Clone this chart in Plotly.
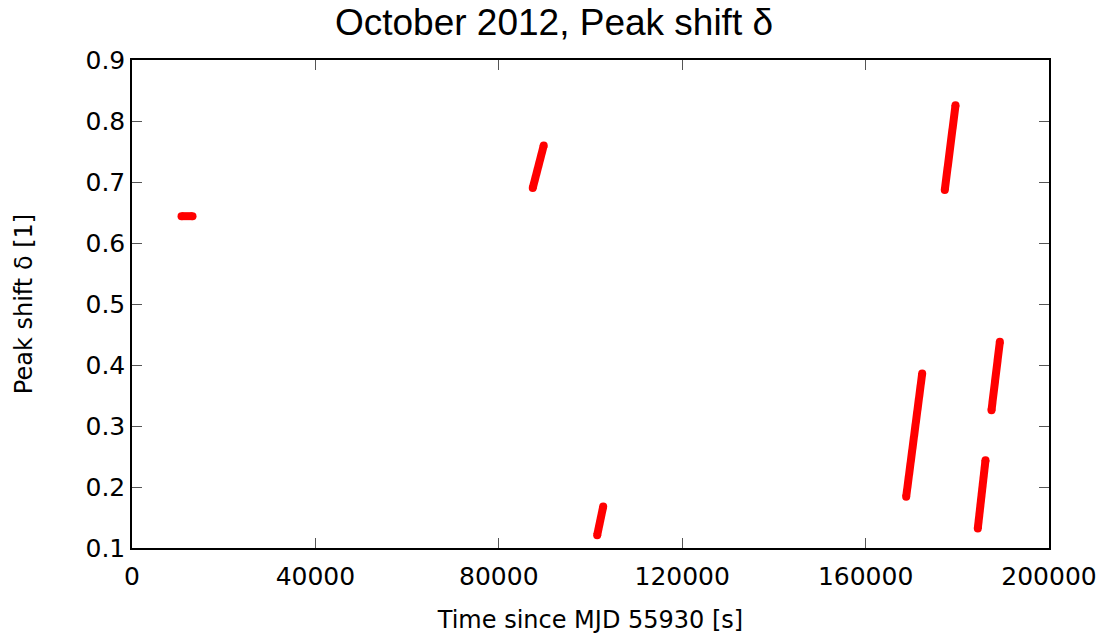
import plotly.graph_objects as go

# Peak shift measurements per observation segment (start/end of each track)
time_s = [10800, 13200, None,
          87400, 89800, None,
          101460, 102770, None,
          168850, 172340, None,
          177270, 179610, None,
          184470, 186150, None,
          187460, 189280]
delta = [0.644, 0.644, None,
         0.690, 0.760, None,
         0.121, 0.168, None,
         0.184, 0.386, None,
         0.687, 0.826, None,
         0.132, 0.244, None,
         0.326, 0.438]

x_ticks = [0, 40000, 80000, 120000, 160000, 200000]
y_ticks = [0.1, 0.2, 0.3, 0.4, 0.5, 0.6, 0.7, 0.8, 0.9]

fig = go.Figure()
fig.add_trace(go.Scatter(
    x=time_s, y=delta, mode="lines+markers",
    line=dict(color="#ff0000", width=8),
    marker=dict(color="#ff0000", size=8),
    connectgaps=False, showlegend=False, hoverinfo="x+y",
))

font = "DejaVu Sans, sans-serif"
axis_common = dict(
    showgrid=False, zeroline=False, showline=True, linecolor="black", linewidth=1.5,
    mirror="allticks", ticks="inside", ticklen=10, tickcolor="#555555", tickwidth=1,
    tickfont=dict(family=font, size=25, color="black"), automargin=False,
)
fig.update_layout(
    width=1108, height=634,
    margin=dict(l=132, r=59, t=60, b=86),
    paper_bgcolor="white", plot_bgcolor="white",
    title=dict(text="October 2012, Peak shift δ", x=0.5, xanchor="center",
               y=1 - 22 / 634, yanchor="middle",
               font=dict(family="Liberation Sans, Arial, sans-serif", size=37,
                         color="black")),
    xaxis=dict(range=[0, 200000], tickvals=x_ticks,
               ticktext=[str(v) for v in x_ticks], ticklabelstandoff=5,
               title=dict(text="Time since MJD 55930 [s]", standoff=22,
                          font=dict(family=font, size=24, color="black")),
               **axis_common),
    yaxis=dict(range=[0.1, 0.9], tickvals=y_ticks,
               ticktext=[f"{v:.1f}" for v in y_ticks],
               title=dict(text="Peak shift δ [1]", standoff=46,
                          font=dict(family=font, size=24, color="black")),
               **axis_common),
)

fig.write_html("out.html")
